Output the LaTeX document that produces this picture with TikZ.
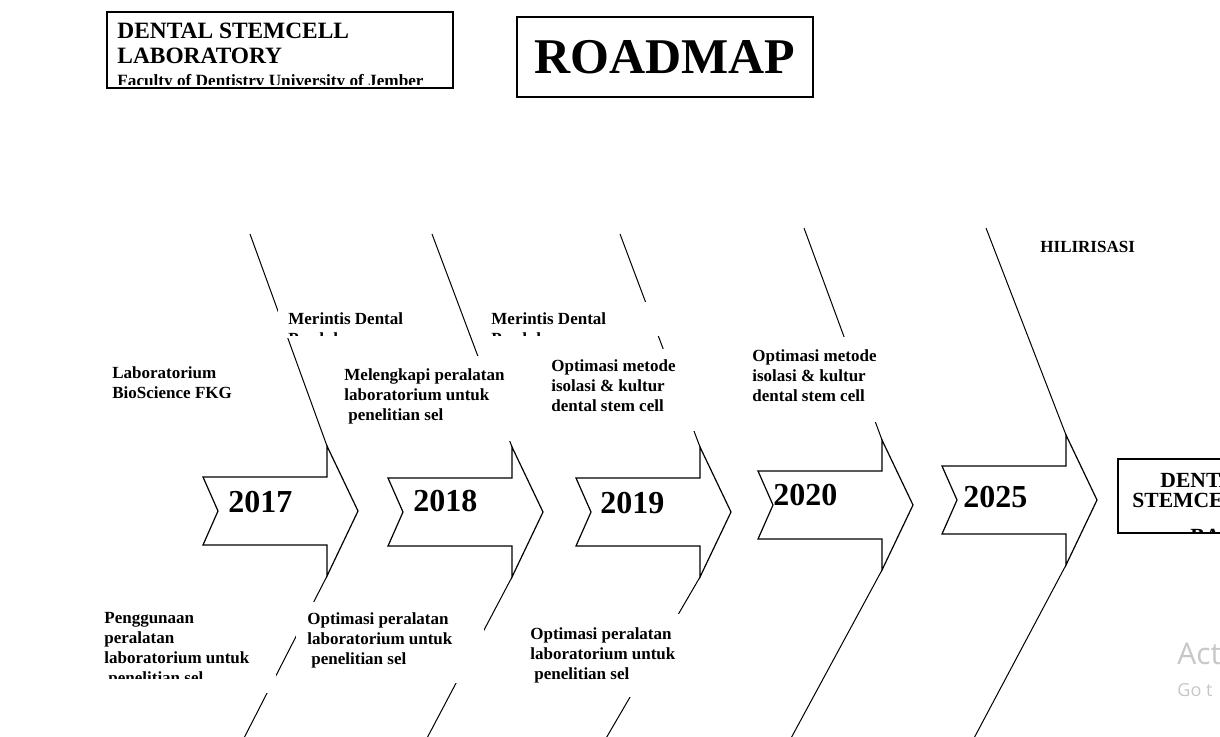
\documentclass[tikz,border=0pt]{standalone}
\usepackage{fontspec}
\setmainfont{Liberation Serif}
\newfontfamily\wmfont{Open Sans}

\begin{document}
\begin{tikzpicture}[x=0.5pt,y=-0.5pt,
    yearbox/.style={draw=black, line width=0.6pt, fill=white, line join=miter},
    yearlbl/.style={font=\fontsize{16}{18}\selectfont\bfseries, inner sep=0pt, anchor=base west},
    bone/.style={draw=black, line width=0.5pt},
    note/.style={font=\fontsize{8.5}{10}\selectfont\bfseries, align=left, inner sep=0pt, anchor=north west},
    blank/.style={fill=white},
    wmark/.style={font=\wmfont, text=black!22, inner sep=0pt, anchor=north west}]

    \useasboundingbox[fill=white] (0,0) rectangle (1220,736);

    % Title boxes
    \draw[line width=0.6pt] (107,12) rectangle (453,88);
    \node[font=\fontsize{11.7}{12.5}\selectfont\bfseries, align=left, inner sep=0pt, anchor=north west] (labname) at (117,23) {DENTAL STEMCELL\\LABORATORY};
    \begin{scope}
        \clip (108,13) rectangle (452,84);
        \node[font=\fontsize{8.6}{10}\selectfont\bfseries, inner sep=0pt, anchor=north west] (faculty) at (117,74) {Faculty of Dentistry University of Jember};
    \end{scope}
    \node[draw, line width=0.6pt, minimum width=148pt, minimum height=40pt, inner sep=0pt, font=\fontsize{25}{25}\selectfont\bfseries] (roadmap) at (665,57) {ROADMAP};

    % Year arrows
    \foreach \yr/\ax/\ay/\lx/\ly in {2017/203/511/228/512, 2018/388/512/413/511, 2019/576/512/600/513, 2020/758/505/773/505, 2025/942/500/963/507}{
        \begin{scope}[shift={(\ax,\ay)}]
            \draw[yearbox] (0,-34) -- (124,-34) -- (124,-65) -- (155,0) -- (124,65) -- (124,34) -- (0,34) -- (15,0) -- cycle;
            \coordinate (ht\yr) at (124,-65);
            \coordinate (hb\yr) at (124,65);
        \end{scope}
        \node[yearlbl] (y\yr) at (\lx,\ly) {\yr};
    }

    % Bones
    \foreach \yr/\tx/\ty/\bx in {2017/250/234/243, 2018/432/234/426, 2019/620/234/605, 2020/804/228/790, 2025/986/228/973}{
        \coordinate (top\yr) at (\tx,\ty);
        \coordinate (bot\yr) at (\bx,740);
        \draw[bone] (top\yr) -- (ht\yr);
        \draw[bone] (hb\yr) -- (bot\yr);
    }

    % Upper notes
    \fill[blank] (106,360) rectangle (262,405);
    \node[note] (biosci) at (112,366) {Laboratorium\\BioScience FKG};
    \fill[blank] (278,308) rectangle (445,338);
    \begin{scope}
        \clip (278,308) rectangle (445,335);
        \node[note] (merintisA) at (288,312) {Merintis Dental\\Produk};
    \end{scope}
    \fill[blank] (484,302) rectangle (662,336);
    \begin{scope}
        \clip (484,302) rectangle (662,335);
        \node[note] (merintisB) at (491,312) {Merintis Dental\\Produk};
    \end{scope}
    \fill[blank] (336,356) rectangle (515,441);
    \node[note] (lengkap) at (344,368) {Melengkapi peralatan\\laboratorium untuk\\\hspace{2pt}penelitian sel};
    \fill[blank] (545,349) rectangle (700,431);
    \node[note] (metodeA) at (551,359) {Optimasi metode\\isolasi \& kultur\\dental stem cell};
    \fill[blank] (745,337) rectangle (880,422);
    \node[note] (metodeB) at (752,349) {Optimasi metode\\isolasi \& kultur\\dental stem cell};
    \node[note] (hilir) at (1040,241) {HILIRISASI};

    % Lower notes
    \fill[blank] (98,604) rectangle (276,693);
    \begin{scope}
        \clip (98,604) rectangle (276,678);
        \node[note] (guna) at (104,612) {Penggunaan\\peralatan\\laboratorium untuk\\\hspace{2pt}penelitian sel};
    \end{scope}
    \fill[blank] (296,602) rectangle (484,683);
    \node[note] (alatA) at (307,612) {Optimasi peralatan\\laboratorium untuk\\\hspace{2pt}penelitian sel};
    \fill[blank] (522,614) rectangle (680,697);
    \node[note] (alatB) at (530,627) {Optimasi peralatan\\laboratorium untuk\\\hspace{2pt}penelitian sel};

    % Goal box
    \draw[line width=0.6pt] (1118,459) rectangle (1300,533);
    \begin{scope}
        \clip (1119,460) rectangle (1300,531);
        \node[font=\fontsize{10.8}{10}\selectfont\bfseries, align=left, inner sep=0pt, anchor=north west] (bank) at (1132,473) {\hspace{14pt}DENTAL\\STEMCELL\\[8pt]\hspace{29pt}BANK};
    \end{scope}

    % Watermark
    \node[wmark, font=\wmfont\fontsize{15}{15}\selectfont] (wmA) at (1177,643) {Act};
    \node[wmark, font=\wmfont\fontsize{9}{9}\selectfont] (wmB) at (1177,683) {Go t};
\end{tikzpicture}
\end{document}
